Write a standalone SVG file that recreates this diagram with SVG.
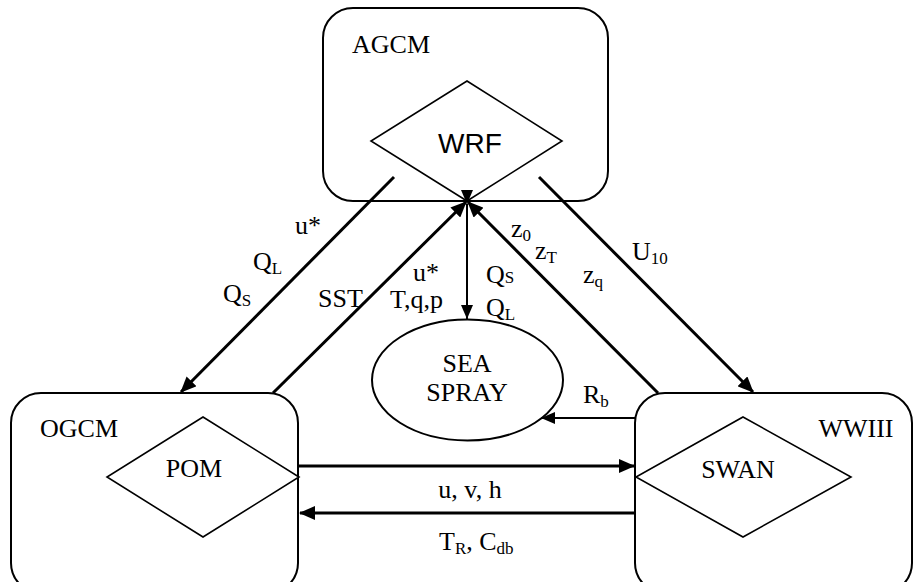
<svg xmlns="http://www.w3.org/2000/svg" width="913" height="582" viewBox="0 0 913 582">
  <style>
    .box { fill: none; stroke: #000; stroke-width: 2; }
    .dia { fill: #fff; stroke: #000; stroke-width: 1.6; }
    .thick { fill: none; stroke: #000; stroke-width: 3; }
    .thin { fill: none; stroke: #000; stroke-width: 2; }
    .t { font-family: "Liberation Serif", "Times New Roman", serif; font-size: 26px; fill: #000; }
    .s { font-size: 17px; }
    .sans { font-family: "Liberation Sans", Arial, sans-serif; font-size: 28px; fill: #000; }
  </style>
  <defs>
    <marker id="ah" markerUnits="userSpaceOnUse" markerWidth="16" markerHeight="14" refX="15" refY="7" orient="auto">
      <path d="M0,0 L16,7 L0,14 Z" fill="#000"/>
    </marker>
    <marker id="ahs" markerUnits="userSpaceOnUse" markerWidth="14" markerHeight="12" refX="14" refY="6" orient="auto">
      <path d="M0,0 L14,6 L0,12 Z" fill="#000"/>
    </marker>
  </defs>

  <rect width="913" height="582" fill="#fff"/>

  <!-- AGCM / WRF -->
  <g id="agcm">
    <rect class="box" x="323" y="8" width="285" height="193" rx="30" ry="30"/>
    <text class="t" x="352" y="53">AGCM</text>
  </g>
  <g id="wrf">
    <polygon class="dia" points="467,81 562,141 467,201 371,141"/>
    <text class="sans" x="470" y="153" text-anchor="middle">WRF</text>
  </g>

  <!-- OGCM / POM -->
  <g id="ogcm">
    <rect class="box" x="11" y="393" width="287" height="200" rx="30" ry="30"/>
    <text class="t" x="40" y="437">OGCM</text>
  </g>
  <g id="pom">
    <polygon class="dia" points="203,417 299,477 203,537 107,477"/>
    <text class="t" x="194" y="477" text-anchor="middle">POM</text>
  </g>

  <!-- WWIII / SWAN -->
  <g id="wwiii">
    <rect class="box" x="635" y="393" width="277" height="200" rx="30" ry="30"/>
    <text class="t" x="856" y="437" text-anchor="middle">WWIII</text>
  </g>
  <g id="swan">
    <polygon class="dia" points="743,417 851,477 743,537 636,477"/>
    <text class="t" x="738" y="478" text-anchor="middle">SWAN</text>
  </g>

  <!-- Sea spray -->
  <g id="seaspray">
    <ellipse class="box" cx="467.5" cy="380" rx="95.5" ry="60.5"/>
    <text class="t" x="467" y="372" text-anchor="middle">SEA</text>
    <text class="t" x="467" y="401" text-anchor="middle">SPRAY</text>
  </g>

  <!-- Connectors -->
  <g id="connectors">
    <line class="thick" x1="394" y1="177" x2="181" y2="392" marker-end="url(#ah)"/>
    <line class="thick" x1="273" y1="393" x2="466" y2="202" marker-end="url(#ah)"/>
    <line class="thick" x1="658" y1="393" x2="468" y2="202" marker-end="url(#ah)"/>
    <line class="thick" x1="539" y1="177" x2="753" y2="392" marker-end="url(#ah)"/>
    <line class="thin" x1="467" y1="204" x2="467" y2="319" marker-start="url(#ahs)" marker-end="url(#ahs)"/>
    <line class="thin" x1="635" y1="418" x2="541" y2="418" marker-end="url(#ahs)"/>
    <line class="thick" x1="299" y1="466" x2="634" y2="466" marker-end="url(#ah)"/>
    <line class="thick" x1="635" y1="513" x2="300" y2="513" marker-end="url(#ah)"/>
  </g>

  <!-- Connector labels -->
  <g id="labels">
    <text class="t" x="295" y="234">u*</text>
    <text class="t" x="253" y="270">Q<tspan class="s" dy="4">L</tspan></text>
    <text class="t" x="223" y="302">Q<tspan class="s" dy="4">S</tspan></text>
    <text class="t" x="318" y="307">SST</text>
    <text class="t" x="413" y="281">u*</text>
    <text class="t" x="390" y="308">T,q,p</text>
    <text class="t" x="486" y="283">Q<tspan class="s">S</tspan></text>
    <text class="t" x="486" y="316">Q<tspan class="s" dy="4">L</tspan></text>
    <text class="t" x="511" y="237">z<tspan class="s" dy="4">0</tspan></text>
    <text class="t" x="535" y="259">z<tspan class="s" dy="4">T</tspan></text>
    <text class="t" x="583" y="283">z<tspan class="s" dy="4">q</tspan></text>
    <text class="t" x="632" y="260">U<tspan class="s" dy="4">10</tspan></text>
    <text class="t" x="583" y="403">R<tspan class="s" dy="4">b</tspan></text>
    <text class="t" x="470" y="498" text-anchor="middle">u, v, h</text>
    <text class="t" x="439" y="550">T<tspan class="s" dy="4">R</tspan><tspan dy="-4">, C</tspan><tspan class="s" dy="4">db</tspan></text>
  </g>
</svg>
